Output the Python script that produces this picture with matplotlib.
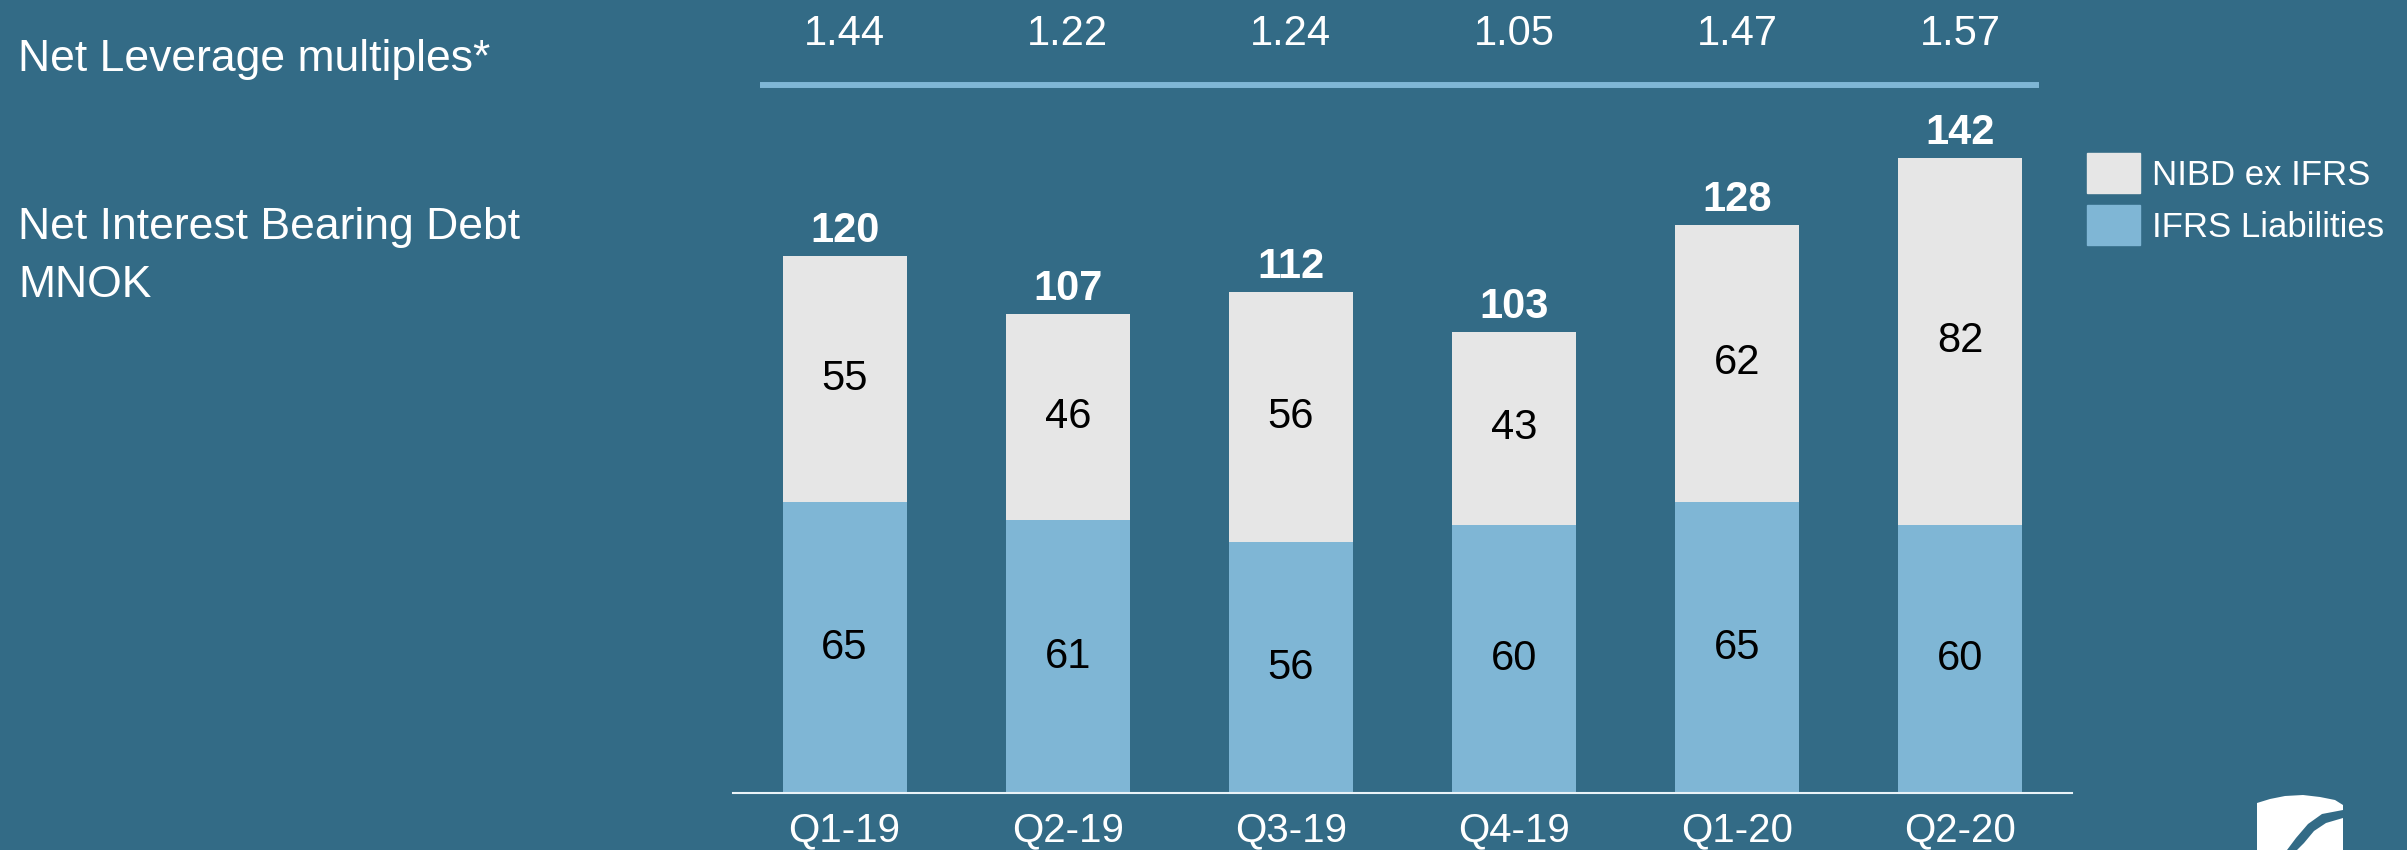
import matplotlib
matplotlib.use("Agg")
import matplotlib.pyplot as plt
from matplotlib.patches import Patch, Polygon

# quarterly net interest bearing debt, MNOK
quarters = ["Q1-19", "Q2-19", "Q3-19", "Q4-19", "Q1-20", "Q2-20"]
ifrs_liabilities = [65, 61, 56, 60, 65, 60]
nibd_ex_ifrs = [55, 46, 56, 43, 62, 82]
nibd_total = [120, 107, 112, 103, 128, 142]
leverage_multiples = [1.44, 1.22, 1.24, 1.05, 1.47, 1.57]

BG = "#336b86"
LIGHT_BLUE = "#7fb6d5"
LIGHT_GREY = "#e6e6e6"
W, H = 2407, 850

plt.rcParams["font.family"] = ["Liberation Sans", "DejaVu Sans"]

fig = plt.figure(figsize=(W / 100, H / 100), dpi=100, facecolor=BG)

# axes placed so the baseline sits near the bottom, headings on the left
ax = fig.add_axes([733 / W, 57 / H, (2072 - 733) / W, 793 / H])
ax.set_facecolor(BG)
ax.set_xlim(-0.5, 5.5)
ax.set_ylim(0, 793 / 4.475)

x = range(len(quarters))
bw = 0.556
b1 = ax.bar(x, ifrs_liabilities, width=bw, color=LIGHT_BLUE, label="IFRS Liabilities")
b2 = ax.bar(x, nibd_ex_ifrs, width=bw, bottom=ifrs_liabilities, color=LIGHT_GREY,
            label="NIBD ex IFRS")
ax.bar_label(b1, label_type="center", fontsize=30, color="black")
ax.bar_label(b2, label_type="center", fontsize=30, color="black")

for i, t in enumerate(nibd_total):
    top = ifrs_liabilities[i] + nibd_ex_ifrs[i]
    ax.annotate(str(t), (i, top), xytext=(0, 10), textcoords="offset points",
                ha="center", va="baseline", fontsize=30, color="white", weight="bold")

# leverage multiples row above the bars
xt = ax.get_xaxis_transform()
for i, m in enumerate(leverage_multiples):
    ax.text(i, 0.957, f"{m:.2f}", transform=xt, ha="center", va="center",
            fontsize=30, color="white", clip_on=False)
ax.plot([-0.38, 5.35], [0.893, 0.893], transform=xt, color=LIGHT_BLUE, lw=4.3,
        solid_capstyle="butt", clip_on=False)

for side in ["left", "right", "top"]:
    ax.spines[side].set_visible(False)
ax.spines["bottom"].set_color("#eaf3f8")
ax.spines["bottom"].set_linewidth(1.5)
ax.set_yticks([])
ax.set_xticks(list(x))
ax.set_xticklabels(quarters)
ax.tick_params(axis="x", length=0, pad=13, labelsize=29, labelcolor="white")

# headings
narrow = ["Liberation Sans Narrow", "Liberation Sans", "DejaVu Sans"]
fig.text(18 / W, 1 - 71 / H, "Net Leverage multiples*", fontsize=32, color="white",
         family=narrow, va="baseline")
fig.text(18 / W, 1 - 239 / H, "Net Interest Bearing Debt", fontsize=32, color="white",
         family=narrow, va="baseline")
fig.text(18 / W, 1 - 297 / H, "MNOK", fontsize=32, color="white", family=narrow,
         va="baseline")

handles = [Patch(color=LIGHT_GREY), Patch(color=LIGHT_BLUE)]
leg = fig.legend(handles, ["NIBD ex IFRS", "IFRS Liabilities"], loc="upper left",
                 bbox_to_anchor=(2087 / W, 1 - 153 / H), frameon=False, fontsize=25,
                 handlelength=1.53, handleheight=1.4, handletextpad=0.35,
                 labelspacing=0.35, borderpad=0, borderaxespad=0)
for txt in leg.get_texts():
    txt.set_color("white")

# company mark, bottom right
def px(pts):
    return [(a / W, 1 - b / H) for a, b in pts]

shield = [(2257, 850), (2257, 803), (2270, 799), (2285, 796), (2303, 795),
          (2320, 797), (2335, 800), (2343, 805), (2343, 850)]
stripe = [(2343, 810), (2322, 814), (2308, 824), (2296, 838), (2287, 850),
          (2297, 850), (2304, 843), (2314, 831), (2326, 823), (2343, 818)]
fig.patches.append(Polygon(px(shield), closed=True, transform=fig.transFigure,
                           facecolor="white", edgecolor="none"))
fig.patches.append(Polygon(px(stripe), closed=True, transform=fig.transFigure,
                           facecolor=BG, edgecolor="none"))

fig.savefig("out.png", dpi=100, facecolor=BG)
